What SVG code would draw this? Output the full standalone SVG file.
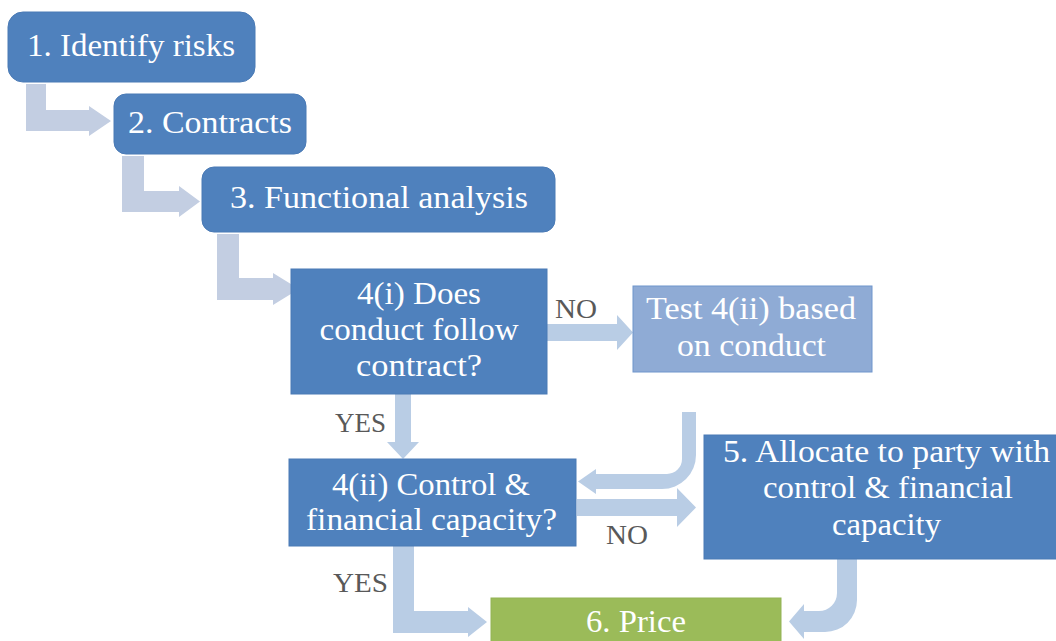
<svg xmlns="http://www.w3.org/2000/svg" width="1056" height="641" viewBox="0 0 1056 641">
<style>
.box{fill:#4f81bd;stroke:#4a7ab5;stroke-width:1}
.light{fill:#8fabd5;stroke:#6f95cc;stroke-width:1}
.green{fill:#9bbb59;stroke:#93b356;stroke-width:1}
.t{font-family:"Liberation Serif","DejaVu Serif","Times New Roman",Times,serif;font-size:31px;fill:#ffffff;text-anchor:middle}
.lbl{font-family:"Liberation Serif","DejaVu Serif","Times New Roman",Times,serif;font-size:27px;fill:#595959}
.a1{fill:#c3cee2}
.a2{fill:#b9cde5}
</style>
<rect width="1056" height="641" fill="#ffffff"/>
<g id="connectors">
<path class="a1" d="M26,84 H46 V110 H89 V106 L111,121 L89,136 V131 H26 Z"/>
<path class="a1" d="M122,156 H144 V191 H179 V186 L200,201.5 L179,217 V212 H122 Z"/>
<path class="a1" d="M217,234 H239 V278 H273 V273 L299,289 L273,305 V300 H217 Z"/>
<path class="a2" d="M547,324 H617 V315 L633,332.5 L617,350 V341 H547 Z"/>
<path class="a2" d="M395,394 H411 V442 H419 L403,459 L387,442 H395 Z"/>
<path class="a2" d="M682,412 H696 V455 A34,34 0 0 1 662,489 H596 V494 L578,481.5 L596,469 V474 H667 A15,15 0 0 0 682,459 Z"/>
<path class="a2" d="M577,499 H677 V488 L696,507.5 L677,527 V516 H577 Z"/>
<path class="a2" d="M393,546 H414 V611 H468 V607 L487,622 L468,637 V633 H393 Z"/>
<path class="a2" d="M837,559 H857 V600 A32,32 0 0 1 825,632 H804 V639 L789,621.5 L804,604 V611 H819 A18,18 0 0 0 837,593 Z"/>
<text class="lbl" x="555" y="318" textLength="42" lengthAdjust="spacingAndGlyphs" font-family="Liberation Serif, DejaVu Serif, serif">NO</text>
<text class="lbl" x="335" y="432" textLength="51" lengthAdjust="spacingAndGlyphs" font-family="Liberation Serif, DejaVu Serif, serif">YES</text>
<text class="lbl" x="606" y="544" textLength="42" lengthAdjust="spacingAndGlyphs" font-family="Liberation Serif, DejaVu Serif, serif">NO</text>
<text class="lbl" x="333" y="592" textLength="55" lengthAdjust="spacingAndGlyphs" font-family="Liberation Serif, DejaVu Serif, serif">YES</text>
</g>
<g id="n1">
<rect class="box" x="8" y="12" width="247" height="70" rx="15" ry="15"/>
<text class="t" x="131" y="56" textLength="208" lengthAdjust="spacingAndGlyphs" font-family="Liberation Serif, DejaVu Serif, serif">1. Identify risks</text>
</g>
<g id="n2">
<rect class="box" x="114" y="94" width="192" height="60" rx="12" ry="12"/>
<text class="t" x="210" y="133" textLength="164" lengthAdjust="spacingAndGlyphs" font-family="Liberation Serif, DejaVu Serif, serif">2. Contracts</text>
</g>
<g id="n3">
<rect class="box" x="202" y="167" width="353" height="65" rx="12" ry="12"/>
<text class="t" x="379" y="208" textLength="298" lengthAdjust="spacingAndGlyphs" font-family="Liberation Serif, DejaVu Serif, serif">3. Functional analysis</text>
</g>
<g id="n4i">
<rect class="box" x="291" y="269" width="256" height="125"/>
<text class="t" x="419" y="304" textLength="124" lengthAdjust="spacingAndGlyphs" font-family="Liberation Serif, DejaVu Serif, serif">4(i) Does</text>
<text class="t" x="419" y="340" textLength="199" lengthAdjust="spacingAndGlyphs" font-family="Liberation Serif, DejaVu Serif, serif">conduct follow</text>
<text class="t" x="419" y="376" textLength="126" lengthAdjust="spacingAndGlyphs" font-family="Liberation Serif, DejaVu Serif, serif">contract?</text>
</g>
<g id="ntest">
<rect class="light" x="633" y="286" width="239" height="86"/>
<text class="t" x="751" y="319" textLength="210" lengthAdjust="spacingAndGlyphs" font-family="Liberation Serif, DejaVu Serif, serif">Test 4(ii) based</text>
<text class="t" x="751.5" y="356" textLength="149" lengthAdjust="spacingAndGlyphs" font-family="Liberation Serif, DejaVu Serif, serif">on conduct</text>
</g>
<g id="n4ii">
<rect class="box" x="289" y="459" width="287" height="87"/>
<text class="t" x="431" y="495" textLength="198" lengthAdjust="spacingAndGlyphs" font-family="Liberation Serif, DejaVu Serif, serif">4(ii) Control &amp;</text>
<text class="t" x="431.5" y="530" textLength="251" lengthAdjust="spacingAndGlyphs" font-family="Liberation Serif, DejaVu Serif, serif">financial capacity?</text>
</g>
<g id="n5">
<rect class="box" x="704" y="435" width="362" height="124"/>
<text class="t" x="886.5" y="462" textLength="327" lengthAdjust="spacingAndGlyphs" font-family="Liberation Serif, DejaVu Serif, serif">5. Allocate to party with</text>
<text class="t" x="888" y="498" textLength="250" lengthAdjust="spacingAndGlyphs" font-family="Liberation Serif, DejaVu Serif, serif">control &amp; financial</text>
<text class="t" x="886.5" y="535" textLength="109" lengthAdjust="spacingAndGlyphs" font-family="Liberation Serif, DejaVu Serif, serif">capacity</text>
</g>
<g id="n6">
<rect class="green" x="491" y="598" width="290" height="60"/>
<text class="t" x="636" y="632" textLength="100" lengthAdjust="spacingAndGlyphs" font-family="Liberation Serif, DejaVu Serif, serif">6. Price</text>
</g>
</svg>
